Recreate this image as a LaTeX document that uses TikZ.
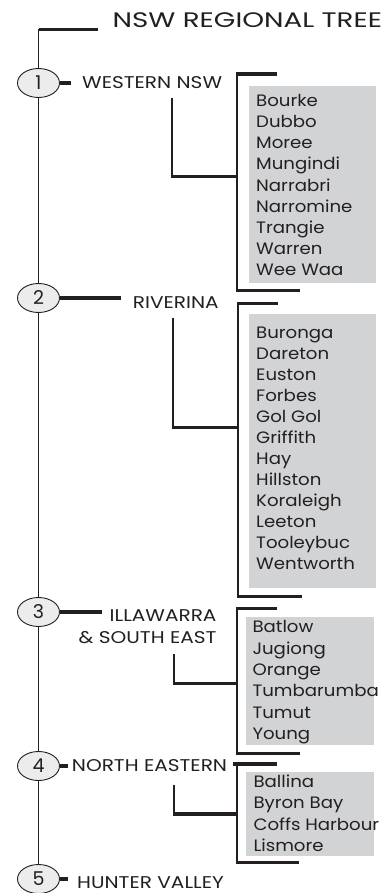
\documentclass[tikz,border=0pt]{standalone}
\usepackage{fontspec}
\setmainfont{Poppins}
\newfontfamily\titlefont[FakeStretch=1.32]{Poppins}
\newfontfamily\regionfont[FakeStretch=1.18]{Poppins}
\newfontfamily\itemfont[FakeStretch=1.1]{Poppins}
\usetikzlibrary{shapes.geometric}
\definecolor{ink}{HTML}{231F20}
\definecolor{boxgray}{HTML}{D1D3D4}
\definecolor{circfill}{HTML}{ECECEC}
\begin{document}
\begin{tikzpicture}[x=1pt,y=-1pt,
  circ/.style={draw=ink, fill=circfill, ellipse, minimum width=42pt, minimum height=29pt, line width=0.9pt, inner sep=0pt, font=\fontsize{19}{19}\selectfont, text=ink},
  region/.style={inner sep=0pt, font=\regionfont\fontsize{17}{17}\selectfont, text=ink},
  item/.style={inner sep=0pt, font=\itemfont\fontsize{16.5}{16.5}\selectfont, text=ink},
  listbox/.style={fill=boxgray, draw=none, inner sep=0pt, anchor=north west},
  thinline/.style={draw=ink, line width=1.3pt},
  midline/.style={draw=ink, line width=2pt},
  thickline/.style={draw=ink, line width=3.2pt},
]
\useasboundingbox (0,0) rectangle (384,893);

% title
\node[inner sep=0pt, anchor=base west, font=\titlefont\fontsize{21}{21}\selectfont, text=ink] (title) at (112.5,27.3) {NSW REGIONAL TREE};
\coordinate (top) at (38.5,29.5);
\coordinate (topend) at (98,29.5);

% list boxes
\node[listbox, minimum width=127.7pt, minimum height=196.7pt] (b1) at (248.3,86) {};
\node[listbox, minimum width=127.7pt, minimum height=274pt] (b2) at (248.3,313.3) {};
\node[listbox, minimum width=128pt, minimum height=128.3pt] (b3) at (246,616.7) {};
\node[listbox, minimum width=127.3pt, minimum height=84.3pt] (b4) at (246,771.7) {};

% circles
\node[circ] (c1) at (38.5,83) {1};
\node[circ] (c2) at (38.5,298) {2};
\node[circ] (c3) at (38.5,612) {3};
\node[circ] (c4) at (38.5,766) {4};
\node[circ] (c5) at (38.5,879) {5};

% main spine
\draw[thickline] (top) -- (topend);
\draw[thinline] (top) -- (c1.north);
\draw[thinline] (c1.south) -- (c2.north);
\draw[thinline] (c2.south) -- (c3.north);
\draw[thinline] (c3.south) -- (c4.north);
\draw[thinline] (c4.south) -- (c5.north);

% region labels
\node[region, anchor=base west] (l1) at (82,89) {WESTERN NSW};
\node[region, anchor=base west] (l2) at (132.7,308) {RIVERINA};
\node[region, anchor=base east] (l3a) at (216.7,621.7) {ILLAWARRA};
\node[region, anchor=base east] (l3b) at (216.7,643) {\& SOUTH EAST};
\node[region, anchor=base west] (l4) at (71.7,771.7) {NORTH EASTERN};
\node[region, anchor=base west] (l5) at (77,888) {HUNTER VALLEY};

% ticks from circles
\draw[thickline] (c1.east) -- (70.7,83);
\draw[thickline] (c2.east) -- (120.7,298);
\draw[thickline] (c3.east) -- (101.7,612);
\draw[thickline] (c4.east) -- (68,766);
\draw[thickline] (c5.east) -- (68,879);

% brackets
\draw[midline] (237.3,74) -- (237.3,290.7);
\draw[thickline] (236.3,74) -- (277,74);
\draw[thickline] (236.3,290.7) -- (300,290.7);
\draw[midline] (237.7,303.5) -- (237.7,596.7);
\draw[thickline] (236.7,303.5) -- (278.3,303.5);
\draw[thickline] (236.7,596.7) -- (301.7,596.7);
\draw[midline] (236.7,608.3) -- (236.7,753.3);
\draw[thickline] (235.7,608.3) -- (277.3,608.3);
\draw[thickline] (235.7,753.3) -- (300,753.3);
\draw[midline] (237.3,764) -- (237.3,862.7);
\draw[thickline] (233,764) -- (277,764);
\draw[thickline] (236.3,862.7) -- (299.3,862.7);

% label to bracket connectors
\draw[midline] (172.3,98.3) -- (172.3,176.7);
\draw[thickline] (171.3,176.7) -- (237.3,176.7);
\draw[midline] (173,317.7) -- (173,427.7);
\draw[thickline] (172,427.7) -- (237.7,427.7);
\draw[midline] (174,654) -- (174,683.3);
\draw[thickline] (173,683.3) -- (236.7,683.3);
\draw[midline] (174,785) -- (174,814);
\draw[thickline] (173,814) -- (237.3,814);

% items
\foreach \t [count=\i from 0] in {Bourke,Dubbo,Moree,Mungindi,Narrabri,Narromine,Trangie,Warren,Wee Waa}
  \node[item, anchor=base west] (ia\i) at (256,106.7+21.1*\i) {\t};
\foreach \t [count=\i from 0] in {Buronga,Dareton,Euston,Forbes,Gol Gol,Griffith,Hay,Hillston,Koraleigh,Leeton,Tooleybuc,Wentworth}
  \node[item, anchor=base west] (ib\i) at (256,338.8+21.0*\i) {\t};
\foreach \t [count=\i from 0] in {Batlow,Jugiong,Orange,Tumbarumba,Tumut,Young}
  \node[item, anchor=base west] (ic\i) at (252.3,632.8+21.3*\i) {\t};
\foreach \t [count=\i from 0] in {Ballina,Byron Bay,Coffs Harbour,Lismore}
  \node[item, anchor=base west] (id\i) at (253.3,787.8+21.1*\i) {\t};
\end{tikzpicture}
\end{document}
